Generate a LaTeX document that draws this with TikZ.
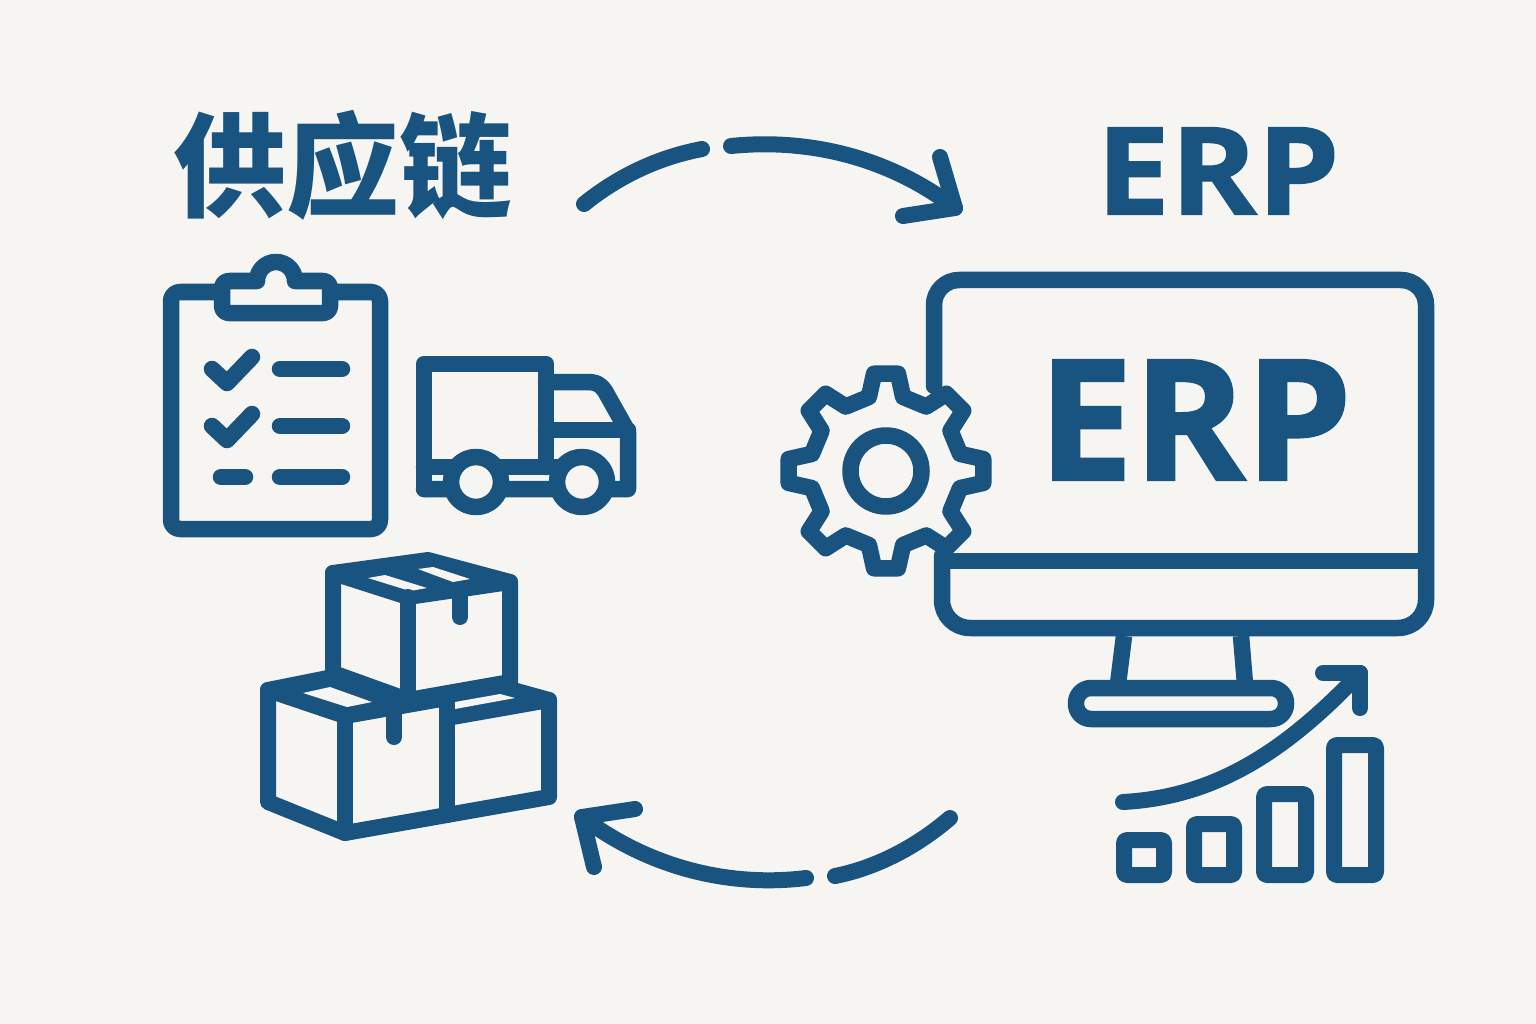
\documentclass[tikz,border=0pt]{standalone}
\usepackage{fontspec}
\setmainfont{Open Sans}
\newfontfamily\cjkfont{Noto Sans CJK SC}
\newfontfamily\erpfont{Open Sans}[BoldFeatures={FakeBold=1,FakeStretch=1.08}]
\newfontfamily\screenfont{Open Sans}[BoldFeatures={FakeBold=1.5,FakeStretch=1.01}]
\definecolor{paper}{HTML}{F7F5F1}
\definecolor{navy}{HTML}{18547F}
\begin{document}
\begin{tikzpicture}[x=1pt,y=-1pt,
		icon/.style={draw=navy,line width=16.5pt,line join=round,line cap=round},
		thinicon/.style={icon,line width=16pt},
		topface/.style={fill=navy,draw=navy,line width=16pt,line join=round},
		flap/.style={fill=paper,draw=none},
		title/.style={text=navy,font=\bfseries\fontsize{122}{130}\selectfont,inner sep=0pt}]
	\useasboundingbox[fill=paper] (0,0) rectangle (1536,1024);
	% headings
	\node[title,font=\cjkfont\bfseries\fontsize{113}{120}\selectfont] (chain) at (343,165) {供应链};
	\node[title,font=\erpfont\bfseries\fontsize{122}{130}\selectfont] (erptitle) at (1218,171) {ERP};

	% clipboard
	\draw[icon,rounded corners=9pt,fill=paper] (171,292) rectangle (380,529);
	\draw[icon,fill=paper] (222,297) [rounded corners=7pt] -- (222,281) -- (245,281) [sharp corners] -- (257,281)
		arc[start angle=180,end angle=360,radius=19] [rounded corners=7pt] -- (330,281) -- (330,313) -- (222,313) [sharp corners] -- cycle;
	\foreach \y in {369,426}{
		\draw[icon] (212,\y) -- (227,\y+14) -- (252,\y-12);
		\draw[icon] (280,\y) -- (342,\y);
	}
	\draw[icon] (221,477) -- (245,477);
	\draw[icon] (280,477) -- (342,477);

	% truck
	\draw[icon] (424,489) -- (424,364) -- (546,364) -- (546,467);
	\draw[icon] (546,382) -- (587,382) .. controls (597,382) and (601,385) .. (605,391) -- (628,432) -- (628,489) -- (424,489);
	\draw[icon] (546,430) -- (628,430);
	\draw[icon] (424,467) -- (590,467);
	\foreach \x in {476,582}
		\draw[icon,fill=paper] (\x,482) circle[radius=25];

	% boxes
	\fill[topface] (333,573) -- (428,560) -- (510,582) -- (408,597) -- cycle;
	\fill[flap] (368,578) -- (385,575) -- (427,588) -- (410,591) -- cycle;
	\fill[flap] (418,569) -- (433,567) -- (470,579) -- (453,582) -- cycle;
	\draw[thinicon] (333,573) -- (333,673) -- (408,700) -- (510,682) -- (510,582);
	\draw[thinicon] (408,597) -- (408,700);
	\draw[thinicon] (460,590) -- (460,617);
	\fill[topface] (268,690) -- (333,677) -- (408,700) -- (447,698) -- (345,716) -- cycle;
	\fill[flap] (303,693) -- (330,687) -- (372,702) -- (347,707) -- cycle;
	\fill[topface] (447,698) -- (513,690) -- (549,700) -- (447,718) -- cycle;
	\fill[flap] (455,702) -- (500,694) -- (515,698) -- (455,709) -- cycle;
	\draw[thinicon] (268,690) -- (268,802) -- (345,833) -- (447,815) -- (549,797) -- (549,700);
	\draw[thinicon] (345,716) -- (345,833);
	\draw[thinicon] (447,698) -- (447,815);
	\draw[thinicon] (394,712) -- (394,737);

	% monitor
	\draw[icon] (934,386) -- (934,305) arc[start angle=180,end angle=270,radius=25] -- (1401,280)
		arc[start angle=270,end angle=360,radius=25] -- (1426,600)
		arc[start angle=0,end angle=90,radius=28] -- (970,628)
		arc[start angle=90,end angle=180,radius=28] -- (942,556);
	\draw[icon,line cap=butt] (942,561) -- (1426,561);
	\node[title,font=\screenfont\bfseries\fontsize{168}{175}\selectfont] (erpscreen) at (1195,420) {ERP};
	\draw[icon,line cap=butt] (1124,636) -- (1118,684);
	\draw[icon,line cap=butt] (1241,636) -- (1245,684);
	\draw[icon,rounded corners=15pt] (1076,688) rectangle (1286,719);

	% gear
	\begin{scope}[shift={(886,471)}]
		\draw[icon,fill=paper] (-13:76) \foreach \a in {0,45,...,315}{
			-- (\a-13:76) -- (\a-7:98) -- (\a+7:98) -- (\a+13:76)
		} -- cycle;
		\draw[icon] (0,0) circle[radius=35.5];
	\end{scope}

	% chart
	\foreach \xa/\xb/\ya in {1124/1164/840,1194/1234/824,1264/1306/794,1334/1376/745}
		\draw[thinicon,rounded corners=3pt] (\xa,\ya) rectangle (\xb,875);
	\coordinate (growfrom) at (1123,802);
	\coordinate (growto) at (1360,673);
	\draw[thinicon] (growfrom) .. controls (1215,797) and (1285,752) .. (growto);
	\draw[thinicon] (1323,673) -- (growto) -- (1360,708);

	% cycle arrows
	\coordinate (topa) at (584,204);
	\coordinate (topb) at (702,149);
	\coordinate (topc) at (731,146);
	\coordinate (topd) at (955,208);
	\draw[thinicon] (topa) .. controls (620,175) and (660,157) .. (topb);
	\draw[thinicon] (topc) .. controls (810,138) and (890,158) .. (topd);
	\draw[thinicon] (940,157) -- (topd) -- (903,216);
	\coordinate (bota) at (950,818);
	\coordinate (botb) at (835,876);
	\coordinate (botc) at (806,878);
	\coordinate (botd) at (582,817);
	\draw[thinicon] (bota) .. controls (915,848) and (875,868) .. (botb);
	\draw[thinicon] (botc) .. controls (725,888) and (645,865) .. (botd);
	\draw[thinicon] (594,867) -- (botd) -- (635,809);
\end{tikzpicture}
\end{document}
